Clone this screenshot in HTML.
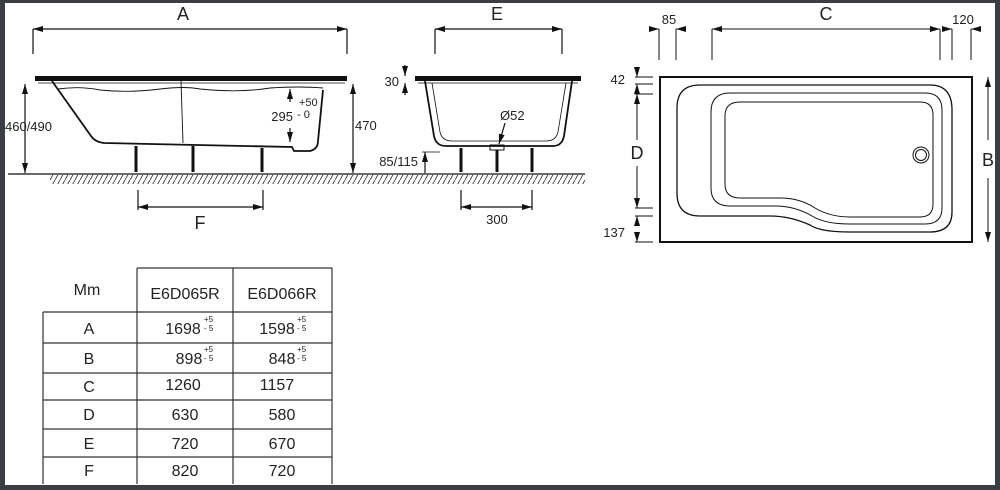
<!DOCTYPE html>
<html><head><meta charset="utf-8"><style>
html,body{margin:0;padding:0;background:#fff}
svg{display:block}
text{font-family:"Liberation Sans",Arial,sans-serif;fill:#222}
</style></head><body>
<svg width="1000" height="490" viewBox="0 0 1000 490" xmlns="http://www.w3.org/2000/svg">
<defs>
<marker id="ar" viewBox="0 0 10 6" refX="10" refY="3" markerWidth="10" markerHeight="6" orient="auto-start-reverse" markerUnits="userSpaceOnUse"><path d="M0,0 L10,3 L0,6 z" fill="#111"/></marker>
<pattern id="hat" width="5" height="9" patternUnits="userSpaceOnUse"><path d="M0,9 L5,0" stroke="#333" stroke-width="0.9"/></pattern>
</defs>
<rect x="0" y="0" width="1000" height="490" fill="#3b3e43"/>
<rect x="5" y="3" width="990" height="482" fill="#fff"/>

<g stroke="#111" fill="none" stroke-width="1.2">
<!-- SIDE VIEW -->
<line x1="33" y1="29" x2="347" y2="29" marker-start="url(#ar)" marker-end="url(#ar)"/>
<line x1="33" y1="29" x2="33" y2="54"/><line x1="347" y1="29" x2="347" y2="54"/>
<rect x="35" y="76" width="312" height="5" fill="#111" stroke="none"/>
<line x1="38" y1="83" x2="345" y2="83" stroke-width="0.8"/>
<path d="M52,81 L91,136 Q95,142 104,143 L292,147 L294,151 L310,151 Q318,149 318,141 L323,90" stroke-width="1.8"/>
<path d="M58,89 Q80,86 100,90 Q130,93 160,89 Q185,86 200,89 Q240,93 270,88 Q300,86 323,88" stroke-width="0.9"/>
<line x1="181" y1="81" x2="183" y2="143" stroke-width="0.9"/>
<g stroke-width="3"><line x1="136" y1="146" x2="136" y2="172"/><line x1="193" y1="146" x2="193" y2="172"/><line x1="262" y1="148" x2="262" y2="172"/></g>
<line x1="8" y1="174" x2="585" y2="174"/>
<line x1="25" y1="84" x2="25" y2="173" marker-start="url(#ar)" marker-end="url(#ar)"/>
<line x1="353" y1="84" x2="353" y2="173" marker-start="url(#ar)" marker-end="url(#ar)"/>
<line x1="290" y1="89" x2="290" y2="102" marker-start="url(#ar)"/>
<line x1="290" y1="128" x2="290" y2="142" marker-end="url(#ar)"/>
<line x1="138" y1="207" x2="263" y2="207" marker-start="url(#ar)" marker-end="url(#ar)"/>
<line x1="138" y1="190" x2="138" y2="210"/><line x1="263" y1="190" x2="263" y2="210"/>

<!-- END VIEW -->
<line x1="435" y1="29" x2="562" y2="29" marker-start="url(#ar)" marker-end="url(#ar)"/>
<line x1="435" y1="29" x2="435" y2="54"/><line x1="562" y1="29" x2="562" y2="54"/>
<rect x="415" y="76" width="166" height="5" fill="#111" stroke="none"/>
<line x1="418" y1="83" x2="578" y2="83" stroke-width="0.8"/>
<path d="M425,81 L434,136 Q436,146 446,146 L553,146 Q562,146 564,136 L572,81" stroke-width="1.8"/>
<path d="M432,83 L440,132 Q442,141 452,141 L546,141 Q556,141 558,132 L566,83" stroke-width="0.8"/>
<g stroke-width="3"><line x1="461" y1="148" x2="461" y2="172"/><line x1="497" y1="150" x2="497" y2="172"/><line x1="532" y1="148" x2="532" y2="172"/></g>
<rect x="490" y="145" width="14" height="5" stroke-width="1"/>
<line x1="505" y1="123" x2="499" y2="144" marker-end="url(#ar)"/>
<line x1="405" y1="65" x2="405" y2="76" marker-end="url(#ar)"/>
<line x1="405" y1="95" x2="405" y2="83" marker-end="url(#ar)"/>
<line x1="425" y1="152" x2="425" y2="173" marker-start="url(#ar)"/>
<line x1="422" y1="152" x2="440" y2="152" stroke-width="0.8"/>
<line x1="461" y1="207" x2="532" y2="207" marker-start="url(#ar)" marker-end="url(#ar)"/>
<line x1="461" y1="190" x2="461" y2="210"/><line x1="532" y1="190" x2="532" y2="210"/>

<!-- TOP VIEW -->
<rect x="660" y="77" width="312" height="165" stroke-width="2"/>
<path d="M700,85 L780,85 L930,85 Q952,85 952,110 L952,212 Q952,232 930,232 L850,232 Q820,232 810,225 Q790,216 770,216 L700,216 Q677,216 677,193 L677,108 Q677,85 700,85 Z" stroke-width="1.3"/>
<path d="M730,93 L925,93 Q942,93 942,110 L942,208 Q942,224 925,224 L850,224 Q825,224 812,216 Q795,206 775,206 L730,206 Q711,206 711,188 L711,112 Q711,93 730,93 Z" stroke-width="1"/>
<path d="M740,102 L920,102 Q933,102 933,115 L933,204 Q933,217 920,217 L850,217 Q830,217 815,208 Q800,198 780,198 L740,198 Q725,198 725,184 L725,116 Q725,102 740,102 Z" stroke-width="1"/>
<circle cx="921" cy="155" r="8" stroke-width="1"/><circle cx="921" cy="155" r="5.5" stroke-width="1"/>
<g stroke-width="1">
<line x1="659" y1="29" x2="659" y2="60"/><line x1="676" y1="29" x2="676" y2="60"/>
<line x1="649" y1="29" x2="659" y2="29" marker-end="url(#ar)"/>
<line x1="686" y1="29" x2="676" y2="29" marker-end="url(#ar)"/>
<line x1="712" y1="29" x2="940" y2="29" marker-start="url(#ar)" marker-end="url(#ar)"/>
<line x1="712" y1="29" x2="712" y2="60"/><line x1="940" y1="29" x2="940" y2="60"/>
<line x1="952" y1="29" x2="952" y2="60"/><line x1="971" y1="29" x2="971" y2="60"/>
<line x1="942" y1="29" x2="952" y2="29" marker-end="url(#ar)"/>
<line x1="981" y1="29" x2="971" y2="29" marker-end="url(#ar)"/>
<line x1="635" y1="77" x2="653" y2="77"/><line x1="635" y1="84" x2="653" y2="84"/>
<line x1="637" y1="67" x2="637" y2="77" marker-end="url(#ar)"/>
<line x1="637" y1="94" x2="637" y2="84" marker-end="url(#ar)"/>
<line x1="635" y1="94" x2="653" y2="94"/><line x1="635" y1="208" x2="653" y2="208"/>
<line x1="637" y1="94" x2="637" y2="140" marker-start="url(#ar)"/>
<line x1="637" y1="166" x2="637" y2="208" marker-end="url(#ar)"/>
<line x1="635" y1="216" x2="653" y2="216"/><line x1="635" y1="242" x2="653" y2="242"/>
<line x1="637" y1="216" x2="637" y2="225" marker-start="url(#ar)"/>
<line x1="637" y1="234" x2="637" y2="242" marker-end="url(#ar)"/>
<line x1="988" y1="77" x2="988" y2="140" marker-start="url(#ar)"/>
<line x1="988" y1="178" x2="988" y2="242" marker-end="url(#ar)"/>
</g>

<!-- TABLE -->
<g stroke="#333" stroke-width="1.2">
<line x1="137" y1="268" x2="332" y2="268"/>
<line x1="137" y1="268" x2="137" y2="484"/>
<line x1="233" y1="268" x2="233" y2="484"/>
<line x1="332" y1="268" x2="332" y2="484"/>
<line x1="43" y1="312" x2="43" y2="484"/>
<line x1="43" y1="312" x2="332" y2="312"/>
<line x1="43" y1="343" x2="332" y2="343"/>
<line x1="43" y1="373" x2="332" y2="373"/>
<line x1="43" y1="400" x2="332" y2="400"/>
<line x1="43" y1="429" x2="332" y2="429"/>
<line x1="43" y1="457" x2="332" y2="457"/>
</g>
</g>
<rect x="50" y="175" width="535" height="9" fill="url(#hat)"/>

<g font-size="16">
<text x="183" y="20" text-anchor="middle" font-size="18">A</text>
<text x="200" y="229" text-anchor="middle" font-size="18">F</text>
<text x="497" y="20" text-anchor="middle" font-size="18">E</text>
<text x="826" y="20" text-anchor="middle" font-size="18">C</text>
<text x="637" y="159" text-anchor="middle" font-size="18">D</text>
<text x="988" y="166" text-anchor="middle" font-size="18">B</text>
</g>
<g font-size="13">
<text x="5" y="131">460/490</text>
<text x="355" y="130">470</text>
<text x="293" y="121" text-anchor="end">295</text>
<text x="299" y="106" font-size="11">+50</text>
<text x="297" y="118" font-size="11">- 0</text>
<text x="399" y="86" text-anchor="end">30</text>
<text x="500" y="120">Ø52</text>
<text x="418" y="166" text-anchor="end">85/115</text>
<text x="497" y="224" text-anchor="middle">300</text>
<text x="669" y="24" text-anchor="middle">85</text>
<text x="963" y="24" text-anchor="middle">120</text>
<text x="625" y="84" text-anchor="end">42</text>
<text x="625" y="237" text-anchor="end">137</text>
</g>
<g font-size="16" text-anchor="middle">
<text x="87" y="295">Mm</text>
<text x="185" y="299">E6D065R</text>
<text x="282" y="299">E6D066R</text>
<text x="89" y="334">A</text><text x="89" y="364">B</text><text x="89" y="392">C</text>
<text x="89" y="420">D</text><text x="89" y="449">E</text><text x="89" y="476">F</text>
<text x="183" y="334">1698</text><text x="277" y="334">1598</text>
<text x="189" y="364">898</text><text x="282" y="364">848</text>
<text x="183" y="390">1260</text><text x="277" y="390">1157</text>
<text x="185" y="420">630</text><text x="282" y="420">580</text>
<text x="185" y="449">720</text><text x="282" y="449">670</text>
<text x="185" y="476">820</text><text x="282" y="476">720</text>
</g>
<g font-size="8">
<text x="204" y="322">+5</text><text x="204" y="331">- 5</text>
<text x="297" y="322">+5</text><text x="297" y="331">- 5</text>
<text x="204" y="352">+5</text><text x="204" y="361">- 5</text>
<text x="297" y="352">+5</text><text x="297" y="361">- 5</text>
</g>
</svg>
</body></html>
